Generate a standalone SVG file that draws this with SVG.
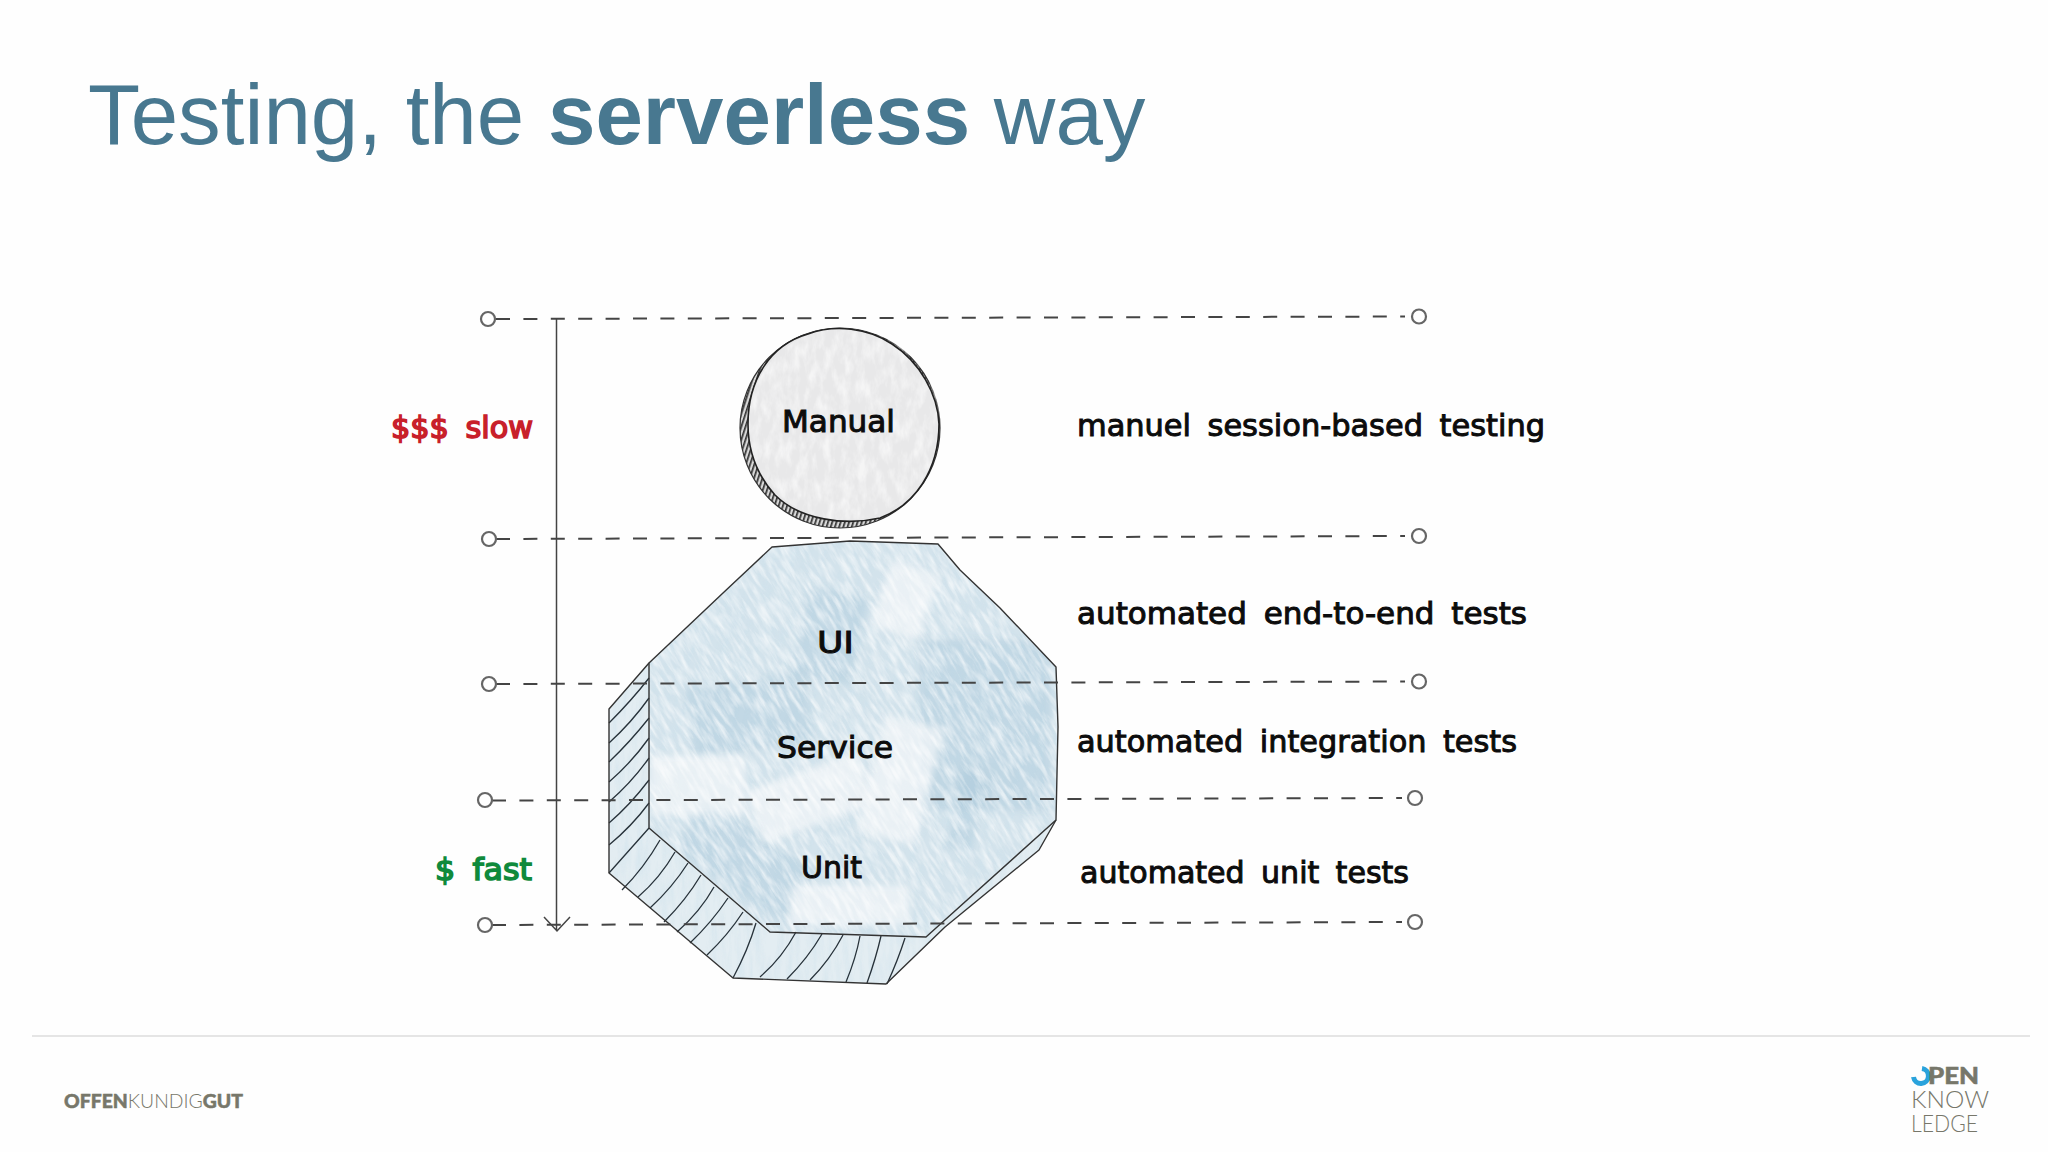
<svg xmlns="http://www.w3.org/2000/svg" width="2048" height="1152" viewBox="0 0 2048 1152">
<style>
.hand{font-family:"DejaVu Sans","Liberation Sans",sans-serif;font-size:31px;font-weight:500;fill:#0c0c0c;stroke:#0c0c0c;stroke-width:1px;word-spacing:7px}
.dash{fill:none;stroke:#444;stroke-width:2;stroke-dasharray:14 13.4}
.end{fill:#fff;stroke:#666;stroke-width:2.200}
.ink{fill:none;stroke:#333;stroke-width:1.400;stroke-linejoin:round}
.hatch{fill:none;stroke:#27323a;stroke-width:1.300}
.brush{fill:#a3c4d8;opacity:.36;filter:url(#soft)}
.light{fill:#f4f7f9;opacity:.7;filter:url(#soft)}
.logo{font-family:"Lato","Liberation Sans",sans-serif;fill:#77776a}
</style>
<defs>
<filter id="soft" x="-20%" y="-20%" width="140%" height="140%"><feGaussianBlur stdDeviation="3.500"/></filter>
<filter id="grain" x="0" y="0" width="100%" height="100%">
<feTurbulence type="fractalNoise" baseFrequency="0.16 0.025" numOctaves="4" seed="7"/>
<feColorMatrix type="matrix" values="0 0 0 0 .62  0 0 0 0 .76  0 0 0 0 .84  1.800 0 0 0 -.72"/>
</filter>
<filter id="grainW" x="0" y="0" width="100%" height="100%">
<feTurbulence type="fractalNoise" baseFrequency="0.22 0.04" numOctaves="4" seed="3"/>
<feColorMatrix type="matrix" values="0 0 0 0 1  0 0 0 0 1  0 0 0 0 1  2.400 0 0 0 -.9"/>
</filter>
<filter id="grey" x="0" y="0" width="100%" height="100%">
<feTurbulence type="fractalNoise" baseFrequency="0.12 0.05" numOctaves="4" seed="11"/>
<feColorMatrix type="matrix" values="0 0 0 0 1  0 0 0 0 1  0 0 0 0 1  2.400 0 0 0 -.9"/>
</filter>
<pattern id="fine" width="4" height="4" patternUnits="userSpaceOnUse" patternTransform="rotate(18)"><rect width="4" height="4" fill="#d8d8d8"/><rect width="1.700" height="4" fill="#333"/></pattern>
<clipPath id="frontClip"><path d="M772 547L850 541L938 544L960 570L1000 608L1056 667L1058 727L1056 820L926 937L770 932L649 828L649 663L723 593Z"/></clipPath>
<clipPath id="backClip"><path d="M649 663L609 709L609 873L733 978L886 984L945 927L1039 850L1056 820L926 937L770 932L649 828Z"/></clipPath>
<clipPath id="circClip"><circle cx="844" cy="424" r="96"/></clipPath>
</defs>
<rect width="2048" height="1152" fill="#fefefe"/>
<text id="title" x="88" y="144" font-family="'Liberation Sans',Arial,sans-serif" font-size="85.300" fill="#487890">Testing, the <tspan font-weight="700">serverless</tspan> way</text>

<g id="manual">
<circle cx="840" cy="428" r="100" fill="url(#fine)" stroke="#333" stroke-width="1.200"/>
<path d="M748 424C748 380 770 345 808 334C835 324 868 328 892 344C920 362 938 395 939 424C939 470 915 505 880 518C845 526 800 520 775 495C757 475 748 450 748 424Z" fill="#e8e8e9"/>
<g clip-path="url(#circClip)"><rect x="740" y="320" width="210" height="210" filter="url(#grey)" opacity=".55"/></g>
<path class="ink" style="stroke-width:1.600;stroke:#222" d="M748 424C748 380 770 345 808 334C835 324 868 328 892 344C920 362 938 395 939 424C939 470 915 505 880 518C845 526 800 520 775 495C757 475 748 450 748 424Z"/>
<text class="hand" x="782" y="432" textLength="113" lengthAdjust="spacingAndGlyphs">Manual</text>
</g>

<g id="pyramid">
<path d="M649 663L609 709L609 873L733 978L886 984L945 927L1039 850L1056 820L926 937L770 932L649 828Z" fill="#e3edf2"/>
<g clip-path="url(#backClip)"><rect x="600" y="660" width="470" height="330" filter="url(#grain)" opacity=".6"/></g>
<path d="M772 547L850 541L938 544L960 570L1000 608L1056 667L1058 727L1056 820L926 937L770 932L649 828L649 663L723 593Z" fill="#d3e3ec"/>
<g clip-path="url(#frontClip)">
<rect x="540" y="440" width="630" height="600" filter="url(#grain)" opacity=".75" transform="rotate(18 855 740)"/>
<rect class="brush" x="690" y="680" width="120" height="70" transform="rotate(-8 750 715)"/>
<rect class="brush" x="920" y="640" width="130" height="170"/>
<rect class="brush" x="800" y="590" width="60" height="90" transform="rotate(12 830 635)"/>
<rect class="brush" x="680" y="830" width="130" height="60" transform="rotate(35 745 860)"/>
<rect class="brush" x="955" y="770" width="24" height="80" transform="rotate(12 967 810)"/>
<rect class="light" x="650" y="755" width="95" height="60"/>
<rect class="light" x="750" y="770" width="120" height="55" transform="rotate(-20 810 797)"/>
<rect class="light" x="880" y="565" width="50" height="70" transform="rotate(20 905 600)"/>
<rect class="light" x="790" y="885" width="120" height="40"/>
<rect class="light" x="870" y="720" width="60" height="120" transform="rotate(14 900 780)"/>
<rect x="540" y="440" width="630" height="600" filter="url(#grainW)" opacity=".6" transform="rotate(-32 855 740)"/>
</g>
<path class="hatch" d="M609 723Q632 700 649 678M609 743Q632 722 649 698M609 762Q630 742 649 718M609 782Q632 762 649 738M609 802Q632 782 649 758M609 823Q630 805 649 780M609 845Q632 826 649 803M609 873L649 828
M622 890Q644 868 660 840M638 897Q660 878 675 852M650 908Q672 888 688 863M664 922Q686 900 701 875M677 932Q700 912 714 887M690 943Q712 922 728 898M707 955Q728 935 743 912M733 978Q748 950 756 923
M760 977Q782 958 796 932M787 979Q808 958 822 934M810 980Q830 960 843 935M846 982Q856 958 860 936M867 983Q876 958 881 936M887 984Q898 960 905 938"/>
<path class="ink" d="M649 663L609 709L609 873L733 978L886 984L945 927L1039 850L1056 820"/>
<path class="ink" d="M772 547L850 541L938 544L960 570L1000 608L1056 667L1058 727L1056 820L926 937L770 932L649 828L649 663L723 593Z"/>
<text class="hand" x="817" y="653" textLength="37" lengthAdjust="spacingAndGlyphs">UI</text>
<text class="hand" x="777" y="758" textLength="116" lengthAdjust="spacingAndGlyphs">Service</text>
<text class="hand" x="801" y="878" textLength="61" lengthAdjust="spacingAndGlyphs">Unit</text>
</g>

<g id="connectors">
<path class="dash" d="M496 319L1405 316.500M496 539L1405 536M496 684L1405 681.500M492 800.500L1402 798M492 925L1402 922"/>
<g fill="none" stroke="#444" stroke-width="1.500"><path d="M556.500 319V930M544 917L557 931L570 917"/></g>
<circle class="end" cx="488" cy="319" r="7"/><circle class="end" cx="489" cy="539" r="7"/><circle class="end" cx="489" cy="684" r="7"/><circle class="end" cx="485" cy="800" r="7"/><circle class="end" cx="485" cy="925" r="7"/>
<circle class="end" cx="1419" cy="316.500" r="7"/><circle class="end" cx="1419" cy="536" r="7"/><circle class="end" cx="1419" cy="681.500" r="7"/><circle class="end" cx="1415" cy="798" r="7"/><circle class="end" cx="1415" cy="922" r="7"/>
</g>

<g id="labels">
<text class="hand" x="391" y="438" textLength="142" lengthAdjust="spacingAndGlyphs" style="fill:#c8202a;stroke:#c8202a;stroke-width:1.600px">$$$ slow</text>
<text class="hand" x="435" y="880" textLength="97" lengthAdjust="spacingAndGlyphs" style="fill:#0f8a3c;stroke:#0f8a3c;stroke-width:1.600px">$ fast</text>
<text class="hand" x="1077" y="436" textLength="468" lengthAdjust="spacingAndGlyphs">manuel session-based testing</text>
<text class="hand" x="1077" y="624" textLength="450" lengthAdjust="spacingAndGlyphs">automated end-to-end tests</text>
<text class="hand" x="1077" y="752" textLength="440" lengthAdjust="spacingAndGlyphs">automated integration tests</text>
<text class="hand" x="1080" y="883" textLength="329" lengthAdjust="spacingAndGlyphs">automated unit tests</text>
</g>

<g id="footer">
<line x1="32" y1="1036" x2="2030" y2="1036" stroke="#dcdcdc" stroke-width="1.500"/>
<text class="logo" x="64" y="1108" font-size="19.500" textLength="179" lengthAdjust="spacingAndGlyphs"><tspan font-weight="900" stroke="#77776a" stroke-width=".5">OFFEN</tspan><tspan font-weight="300">KUNDIG</tspan><tspan font-weight="900" stroke="#77776a" stroke-width=".5">GUT</tspan></text>
<path d="M1913.500 1077A7.500 7.500 0 1 0 1922 1068.500" fill="none" stroke="#2aa3dc" stroke-width="5"/>
<text class="logo" x="1928" y="1084" font-size="23" font-weight="900" textLength="51" lengthAdjust="spacingAndGlyphs" stroke="#77776a" stroke-width=".5">PEN</text>
<text class="logo" x="1911" y="1108" font-size="23" font-weight="300" textLength="78" lengthAdjust="spacingAndGlyphs">KNOW</text>
<text class="logo" x="1911" y="1132" font-size="23" font-weight="300" textLength="67" lengthAdjust="spacingAndGlyphs">LEDGE</text>
</g>
</svg>
